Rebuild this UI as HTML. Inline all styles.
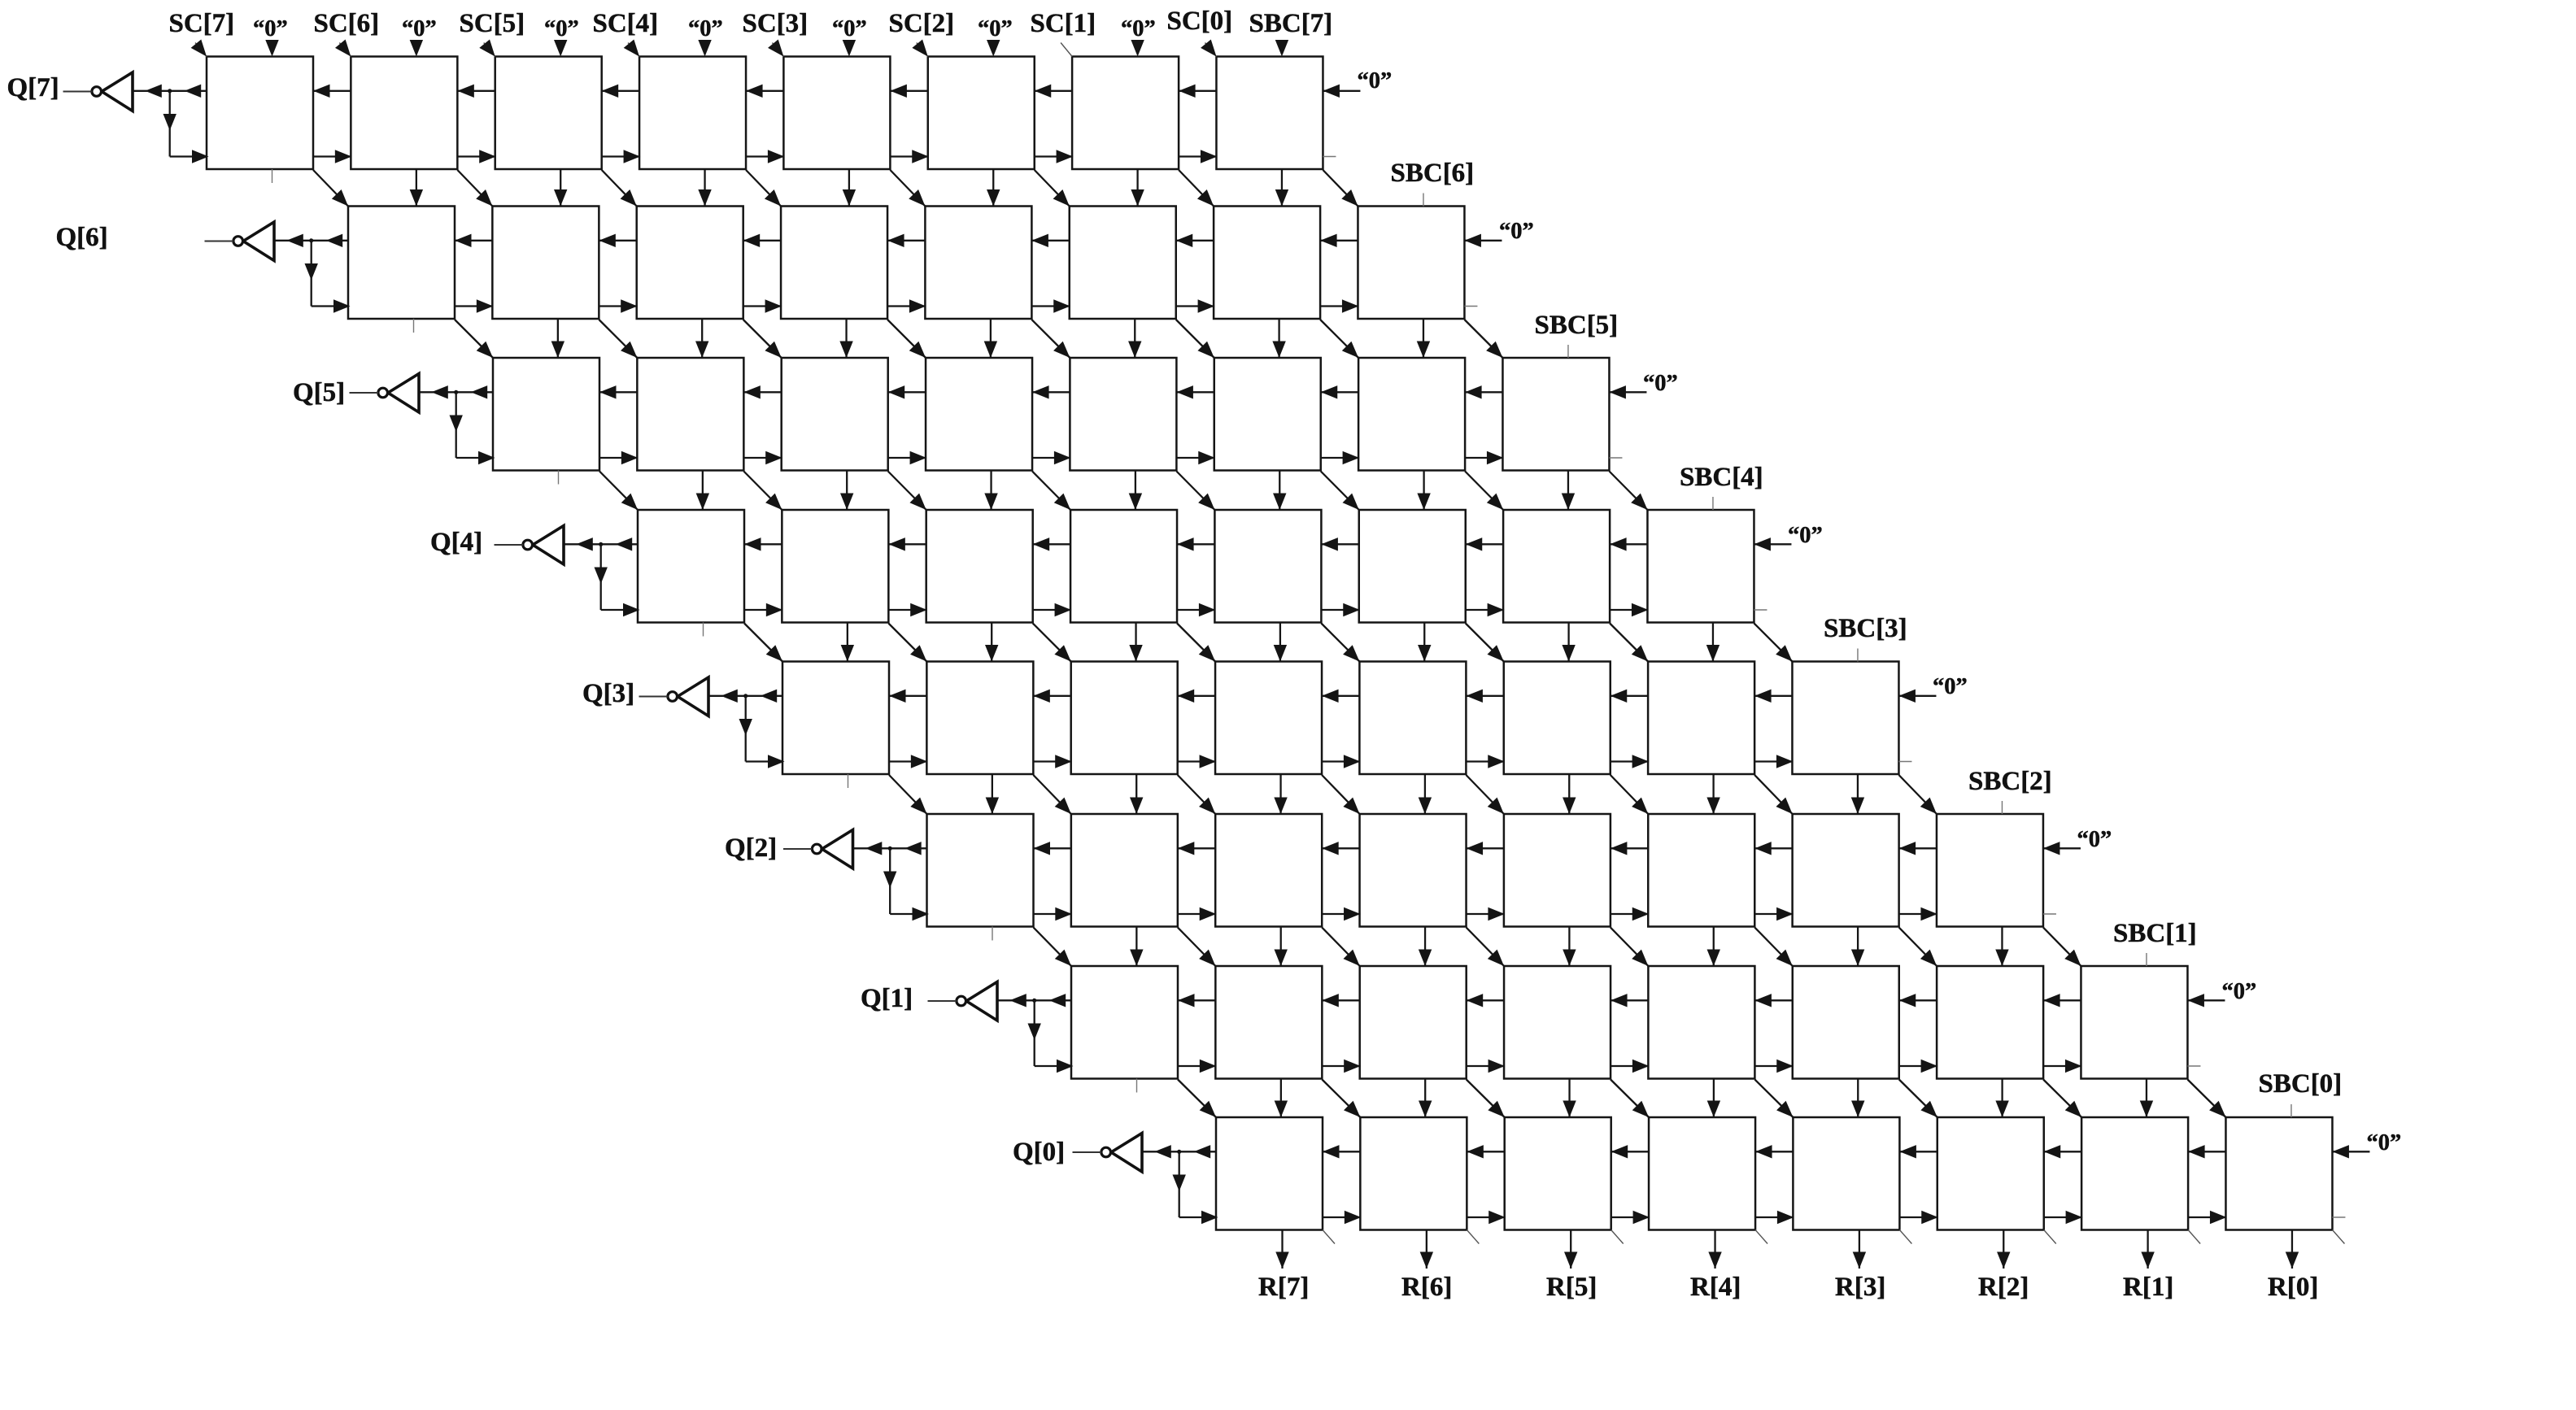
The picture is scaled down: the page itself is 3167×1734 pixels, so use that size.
<!DOCTYPE html>
<html lang="en">
<head>
<meta charset="utf-8">
<title>Array divider schematic</title>
<style>
html,body{margin:0;padding:0;background:#fff;width:3167px;height:1734px;overflow:hidden}
svg{display:block}
text{font-family:"Liberation Serif",serif;font-weight:bold;fill:#111;stroke:#111;stroke-width:.5px}
.lb{font-size:33px}
.zr{font-size:28.5px}
</style>
</head>
<body>
<svg id="diagram" xmlns="http://www.w3.org/2000/svg" width="3167" height="1734" viewBox="0 0 3167 1734">
<rect x="0" y="0" width="3167" height="1734" fill="#fff"/>
<g id="marks"></g>
<g>
<text class="lb" x="207.5" y="39">SC[7]</text>
<text class="lb" x="385.5" y="39">SC[6]</text>
<text class="lb" x="564.5" y="39">SC[5]</text>
<text class="lb" x="728.5" y="39">SC[4]</text>
<text class="lb" x="912.5" y="39">SC[3]</text>
<text class="lb" x="1092.5" y="39">SC[2]</text>
<text class="lb" x="1266.5" y="39">SC[1]</text>
<text class="lb" x="1434.5" y="36">SC[0]</text>
<text class="lb" x="1535.5" y="39">SBC[7]</text>
<text class="lb" x="1709.5" y="223">SBC[6]</text>
<text class="lb" x="1886.5" y="410">SBC[5]</text>
<text class="lb" x="2065" y="597">SBC[4]</text>
<text class="lb" x="2242" y="783">SBC[3]</text>
<text class="lb" x="2420" y="971">SBC[2]</text>
<text class="lb" x="2598" y="1158">SBC[1]</text>
<text class="lb" x="2776.5" y="1343">SBC[0]</text>
<text class="zr" x="311" y="44">“0”</text>
<text class="zr" x="494" y="44">“0”</text>
<text class="zr" x="669" y="44">“0”</text>
<text class="zr" x="846" y="44">“0”</text>
<text class="zr" x="1023" y="44">“0”</text>
<text class="zr" x="1202" y="44">“0”</text>
<text class="zr" x="1378" y="44">“0”</text>
<text class="zr" x="1668.5" y="108">“0”</text>
<text class="zr" x="1843" y="293">“0”</text>
<text class="zr" x="2020" y="480">“0”</text>
<text class="zr" x="2198" y="667">“0”</text>
<text class="zr" x="2376" y="853">“0”</text>
<text class="zr" x="2553.5" y="1041">“0”</text>
<text class="zr" x="2731.5" y="1228">“0”</text>
<text class="zr" x="2909.5" y="1414">“0”</text>
<text class="lb" x="8.5" y="118">Q[7]</text>
<text class="lb" x="68.5" y="302">Q[6]</text>
<text class="lb" x="360" y="493">Q[5]</text>
<text class="lb" x="529" y="677">Q[4]</text>
<text class="lb" x="716" y="863">Q[3]</text>
<text class="lb" x="891" y="1053">Q[2]</text>
<text class="lb" x="1058" y="1238">Q[1]</text>
<text class="lb" x="1245" y="1427">Q[0]</text>
<text class="lb" x="1547" y="1593">R[7]</text>
<text class="lb" x="1723" y="1593">R[6]</text>
<text class="lb" x="1901" y="1593">R[5]</text>
<text class="lb" x="2078" y="1593">R[4]</text>
<text class="lb" x="2256" y="1593">R[3]</text>
<text class="lb" x="2432" y="1593">R[2]</text>
<text class="lb" x="2610" y="1593">R[1]</text>
<text class="lb" x="2788" y="1593">R[0]</text>
</g>
</svg>
<script>
var rowLeft = [254, 428, 606, 784, 962, 1139.5, 1317, 1495];
var rowTop = [69.5, 253.5, 440, 627, 813.5, 1001, 1188, 1374];
var columnCount = 8;
var pitch = 177.35;
var cellW = 131;
var cellH = 138.5;
var wireUpper = 42.3;
var wireLower = 123;
var portX = 80.5;
var NS = 'http://www.w3.org/2000/svg';
var root = document.getElementById('marks');
var DARK = '#151515';

function cellX(r, c) { return rowLeft[r] + c * pitch; }

function line(name, x1, y1, x2, y2, w, color) {
  var el = document.createElementNS(NS, 'line');
  
  
  el.setAttribute('x1', x1);
  el.setAttribute('y1', y1);
  el.setAttribute('x2', x2);
  el.setAttribute('y2', y2);
  el.setAttribute('stroke', color || DARK);
  el.setAttribute('stroke-width', w || 2.3);
  root.appendChild(el);
}

function head(name, tx, ty, fromX, fromY) {
  var len = 20.5, half = 8.2;
  var dx = tx - fromX, dy = ty - fromY;
  var d = Math.sqrt(dx * dx + dy * dy);
  var ux = dx / d, uy = dy / d;
  var bx = tx - ux * len, by = ty - uy * len;
  var el = document.createElementNS(NS, 'polygon');
  
  
  el.setAttribute('points', tx + ',' + ty + ' ' + (bx - uy * half) + ',' + (by + ux * half) + ' ' + (bx + uy * half) + ',' + (by - ux * half));
  el.setAttribute('fill', '#141414');
  root.appendChild(el);
}

function arrow(name, x1, y1, x2, y2, w) {
  line(name + '-wire', x1, y1, x2, y2, w || 2.3);
  head(name + '-head', x2, y2, x1, y1);
}

function box(r, c) {
  var el = document.createElementNS(NS, 'rect');
  
  
  el.setAttribute('x', cellX(r, c));
  el.setAttribute('y', rowTop[r]);
  el.setAttribute('width', cellW);
  el.setAttribute('height', cellH);
  el.setAttribute('fill', '#fff');
  el.setAttribute('stroke', DARK);
  el.setAttribute('stroke-width', 2.5);
  root.appendChild(el);
}

function inverter(r) {
  var X = rowLeft[r], Y = rowTop[r];
  var tri = document.createElementNS(NS, 'polygon');
  
  
  tri.setAttribute('points', (X - 91) + ',' + (Y + 19.5) + ' ' + (X - 91) + ',' + (Y + 67) + ' ' + (X - 129) + ',' + (Y + 43));
  tri.setAttribute('fill', '#fff');
  tri.setAttribute('stroke', '#111');
  tri.setAttribute('stroke-width', 3.6);
  root.appendChild(tri);
  var bub = document.createElementNS(NS, 'circle');
  
  
  bub.setAttribute('cx', X - 135.3);
  bub.setAttribute('cy', Y + 43);
  bub.setAttribute('r', 5.8);
  bub.setAttribute('fill', '#fff');
  bub.setAttribute('stroke', '#111');
  bub.setAttribute('stroke-width', 3.2);
  root.appendChild(bub);
  line('q-output-wire-' + r, X - 176.5, Y + 43, X - 141, Y + 43, 1.9, '#333');
}

function leftEnd(r) {
  var X = rowLeft[r], Y = rowTop[r];
  var wy = Y + wireUpper, bx = X - 45.3;
  line('quotient-wire-' + r, X, wy, X - 91, wy, 2.3);
  head('quotient-head-inner-' + r, X - 27.3, wy, X, wy);
  head('quotient-head-outer-' + r, X - 75.7, wy, X - 45, wy);
  var dot = document.createElementNS(NS, 'circle');
  
  
  dot.setAttribute('cx', bx);
  dot.setAttribute('cy', wy);
  dot.setAttribute('r', 2.6);
  dot.setAttribute('fill', '#111');
  root.appendChild(dot);
  line('feedback-drop-' + r, bx, wy, bx, Y + wireLower, 2.3);
  head('feedback-drop-head-' + r, bx, Y + 91, bx, wy);
  line('feedback-run-' + r, bx, Y + wireLower, X, Y + wireLower, 2.3);
  head('feedback-run-head-' + r, X + 2.5, Y + wireLower, bx, Y + wireLower);
  inverter(r);
}

function draw() {
  var last = rowLeft.length - 1;
  var endCol = columnCount - 1;
  for (var r = 0; r <= last; r++) {
    var Y = rowTop[r], B = Y + cellH;
    for (var c = 0; c <= endCol; c++) {
      box(r, c);
    }
    for (c = 0; c <= endCol; c++) {
      var x = cellX(r, c), right = x + cellW, id = 'r' + r + '-c' + c;
      if (c < endCol) {
        arrow('left-carry-' + id, x + pitch, Y + wireUpper, right, Y + wireUpper);
        arrow('right-control-' + id, right, Y + wireLower, x + pitch + 1, Y + wireLower);
      } else {
        arrow('zero-input-' + id, right + 46, Y + wireUpper, right, Y + wireUpper);
        line('control-stub-' + id, right, Y + wireLower, right + 16, Y + wireLower, 1.6, '#777');
      }
      if (r < last) {
        arrow('diagonal-' + id, right, B + 1, cellX(r + 1, c), rowTop[r + 1]);
        if (c > 0) {
          arrow('down-' + id, x + portX, B, x + portX, rowTop[r + 1]);
        } else {
          line('bottom-stub-' + id, x + portX, B, x + portX, B + 17, 1.4, '#777');
        }
      } else {
        arrow('remainder-' + id, x + portX + 1, B, x + portX + 1, 1560);
        line('corner-stub-' + id, right, B, right + 15, B + 17, 1.4, '#555');
      }
      if (r === 0) {
        head('top-input-head-' + id, x + portX, Y, x + portX, Y - 20);
        line('sc-stub-' + id, x, Y, x - 14, Y - 17, 1.4, '#555');
        if (c !== 6) {
          head('sc-input-head-' + id, x, Y, x - 14, Y - 17);
        }
      } else if (c === endCol) {
        line('sbc-stub-' + id, x + portX, Y, x + portX, Y - 16, 1.4, '#777');
      }
    }
    leftEnd(r);
  }
}
draw();
</script>
</body>
</html>
